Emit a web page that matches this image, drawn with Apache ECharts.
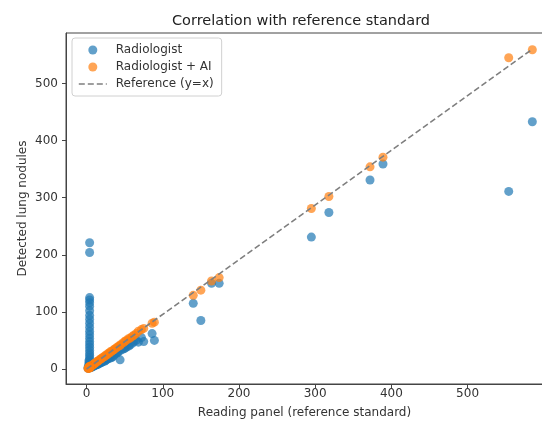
<!DOCTYPE html>
<html>
<head>
<meta charset="utf-8">
<script src="https://cdn.jsdelivr.net/npm/echarts@6/dist/echarts.min.js"></script>
<style>
  html, body { margin: 0; padding: 0; background: #fff; }
  #chart { width: 542px; height: 423px; }
</style>
</head>
<body>
<div id="chart"></div>
<script>
///////////////////////////////////////////////////
// Used data (one entry per case)
///////////////////////////////////////////////////

// reading panel count (reference standard)
var panelCounts = [
  585, 554, 389, 372, 318, 295, 174, 164, 150, 140,
  89, 86, 75, 72, 68, 65, 62, 60, 57, 55,
  52, 50, 48, 45, 44, 42, 40, 38, 36, 35,
  33, 31, 30, 28, 27, 25, 24, 22, 20, 19,
  18, 16, 15, 14, 12, 11, 10, 9, 8, 7,
  6, 5, 4, 4, 4, 4, 4, 4, 4, 4,
  4, 4, 4, 4, 4, 4, 4, 4, 4, 4,
  4, 4, 4, 4, 4, 3, 3, 2, 2, 3
];
// nodules detected by the radiologist alone
var radiologistCounts = [
  433, 311, 359, 331, 274, 231, 150, 150, 85, 115,
  50, 62, 48, 55, 47, 50, 48, 45, 42, 40,
  38, 36, 35, 33, 16, 30, 28, 27, 25, 22,
  20, 19, 21, 18, 17, 15, 14, 13, 12, 11,
  11, 9, 8, 8, 7, 6, 6, 5, 4, 4,
  3, 2, 221, 204, 125, 121, 116, 110, 102, 94,
  87, 80, 73, 66, 60, 54, 48, 43, 38, 33,
  28, 24, 20, 16, 12, 9, 6, 3, 1, 14
];
// nodules detected by the radiologist with AI support
var aiCounts = [
  559, 545, 371, 354, 302, 281, 160, 154, 138, 129,
  82, 80, 71, 69, 66, 62, 59, 57, 54, 53,
  50, 48, 46, 43, 41, 40, 38, 36, 34, 33,
  31, 30, 28, 27, 25, 24, 22, 21, 19, 18,
  17, 15, 14, 13, 11, 10, 9, 8, 7, 6,
  5, 4, 4, 3, 4, 3, 4, 3, 4, 3,
  3, 4, 3, 3, 4, 3, 3, 2, 3, 2,
  3, 2, 2, 3, 2, 2, 2, 1, 1, 2
];
// reference line end points (as drawn)
var refLineX = [0, 585];
var refLineY = [0, 560];

var xTicks = [0, 100, 200, 300, 400, 500];
var yTicks = [0, 100, 200, 300, 400, 500];

///////////////////////////////////////////////////
// Chart
///////////////////////////////////////////////////
function pairs(xs, ys) {
  return xs.map(function (x, i) { return [x, ys[i]]; });
}

var FONT = 'DejaVu Sans';
var TEXT = '#333';
var SPINE = '#444';
var REF_LINE = { color: '#7f7f7f', width: 1.6, type: [6, 3] };

var myChart = echarts.init(document.getElementById('chart'), null, { renderer: 'canvas' });

myChart.setOption({
  animation: false,
  textStyle: { fontFamily: FONT },
  title: {
    text: 'Correlation with reference standard',
    left: 296,
    top: 9,
    textAlign: 'center',
    textStyle: { fontFamily: FONT, fontSize: 14.5, fontWeight: 'normal', color: '#222' },
  },
  grid: {
    left: 66, top: 33, width: 477, height: 351,
    outerBoundsMode: 'none',
    show: true, borderColor: SPINE, borderWidth: 1,
  },
  legend: {
    orient: 'vertical',
    left: 72, top: 38,
    padding: [6, 8, 6, 6],
    itemGap: 5,
    itemWidth: 28, itemHeight: 9,
    backgroundColor: 'rgba(255,255,255,0.8)',
    borderColor: '#d0d0d0', borderWidth: 1, borderRadius: 3,
    textStyle: { fontFamily: FONT, fontSize: 12, color: TEXT, padding: [0, 0, 0, 4] },
    data: [
      'Radiologist',
      'Radiologist + AI',
      { name: 'Reference (y=x)', itemStyle: { opacity: 0 }, lineStyle: REF_LINE },
    ],
  },
  xAxis: {
    type: 'value',
    min: -27, max: 599,
    name: 'Reading panel (reference standard)',
    nameLocation: 'middle', nameGap: 23,
    nameMoveOverlap: false,
    nameTextStyle: { fontFamily: FONT, fontSize: 12, color: TEXT },
    splitLine: { show: false },
    axisLine: { show: true, onZero: false, lineStyle: { color: SPINE, width: 1 } },
    axisTick: { show: true, length: 4, customValues: xTicks, lineStyle: { color: SPINE } },
    axisLabel: { customValues: xTicks, fontFamily: FONT, fontSize: 12, color: TEXT, margin: 4 },
  },
  yAxis: {
    type: 'value',
    min: -26.3, max: 588.4,
    name: 'Detected lung nodules',
    nameLocation: 'middle', nameGap: 37,
    nameMoveOverlap: false,
    nameTextStyle: { fontFamily: FONT, fontSize: 12, color: TEXT },
    splitLine: { show: false },
    axisLine: { show: true, onZero: false, lineStyle: { color: SPINE, width: 1 } },
    axisTick: { show: true, length: 4, customValues: yTicks, lineStyle: { color: SPINE } },
    axisLabel: { customValues: yTicks, fontFamily: FONT, fontSize: 12, color: TEXT, margin: 8 },
  },
  series: [
    {
      name: 'Radiologist',
      type: 'scatter',
      symbolSize: 9,
      itemStyle: { color: '#1f77b4', opacity: 0.7 },
      emphasis: { disabled: true },
      data: pairs(panelCounts, radiologistCounts),
    },
    {
      name: 'Radiologist + AI',
      type: 'scatter',
      symbolSize: 9,
      itemStyle: { color: '#ff7f0e', opacity: 0.7 },
      emphasis: { disabled: true },
      data: pairs(panelCounts, aiCounts),
    },
    {
      name: 'Reference (y=x)',
      type: 'line',
      symbol: 'none',
      silent: true,
      lineStyle: REF_LINE,
      itemStyle: { color: '#7f7f7f' },
      data: pairs(refLineX, refLineY),
    },
  ],
});
</script>
</body>
</html>
